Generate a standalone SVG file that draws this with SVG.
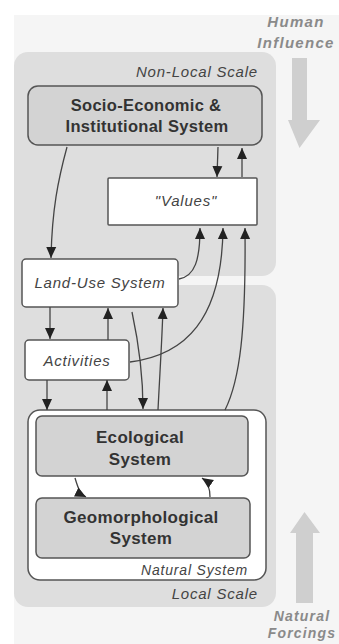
<svg xmlns="http://www.w3.org/2000/svg" width="339" height="644" viewBox="0 0 339 644">
<style>
.bg{fill:#f5f5f5}
.panel{fill:#dedede}
.sys{fill:#d3d3d3;stroke:#555;stroke-width:1.5}
.wbox{fill:#fff;stroke:#555;stroke-width:1.5}
.bold{font-family:"Liberation Sans",Arial,sans-serif;font-weight:bold;font-size:16.5px;letter-spacing:0.3px;fill:#333;text-anchor:middle}
.eco{font-size:17px}
.it{font-family:"Liberation Sans",Arial,sans-serif;font-style:italic;font-size:15px;letter-spacing:0.8px;fill:#444;text-anchor:middle}
.scale{font-family:"Liberation Sans",Arial,sans-serif;font-style:italic;font-size:15px;letter-spacing:0.8px;fill:#444;text-anchor:end}
.force{font-family:"Liberation Sans",Arial,sans-serif;font-style:italic;font-weight:bold;font-size:15px;letter-spacing:1.3px;fill:#8a8a8a;text-anchor:middle}
.nf{font-size:14px;letter-spacing:1.2px}
.big{fill:#cfcfcf}
.conn path{fill:none;stroke:#444;stroke-width:1.3;marker-end:url(#ah)}
</style>
<defs>
<marker id="ah" markerUnits="userSpaceOnUse" markerWidth="12" markerHeight="12" viewBox="0 0 12 12" refX="11" refY="6" orient="auto">
<path d="M0,1 L11,6 L0,11 Z" fill="#222"/>
</marker>
</defs>
<rect width="339" height="644" fill="#fff"/>
<rect class="bg" x="14" y="15" width="325" height="629"/>
<g id="non-local-scale">
<rect class="panel" x="14" y="52" width="262" height="224" rx="14"/>
<text class="scale" x="258" y="77">Non-Local Scale</text>
</g>
<g id="local-scale">
<rect class="panel" x="14" y="285" width="262" height="322" rx="14"/>
<rect class="panel" x="14" y="260" width="20" height="40"/>
<text class="scale" x="258" y="599">Local Scale</text>
</g>
<g id="human-influence">
<text class="force" x="296" y="27">Human</text>
<text class="force" x="296" y="48">Influence</text>
<path class="big" d="M292,58 H307 V120 H320 L299.5,148 L288,120 H292 Z"/>
</g>
<g id="natural-forcings">
<path class="big" d="M296,603 H313 V533 H320 L304.5,512 L290,533 H296 Z"/>
<text class="force nf" x="302" y="621">Natural</text>
<text class="force nf" x="302" y="638">Forcings</text>
</g>
<g id="socio-economic">
<rect class="sys" x="28" y="86" width="234" height="59" rx="10"/>
<text class="bold" x="146" y="111">Socio-Economic &amp;</text>
<text class="bold" x="147" y="132">Institutional System</text>
</g>
<g id="values">
<rect class="wbox" x="108" y="178" width="149" height="47" rx="1"/>
<text class="it" x="186" y="206">"Values"</text>
</g>
<g id="land-use">
<rect class="wbox" x="22" y="259" width="156" height="48" rx="4"/>
<text class="it" x="100" y="288">Land-Use System</text>
</g>
<g id="activities">
<rect class="wbox" x="25" y="340" width="104" height="40" rx="4"/>
<text class="it" x="77" y="366">Activities</text>
</g>
<g id="natural-system">
<rect class="wbox" x="28" y="410" width="238" height="170" rx="12"/>
<text class="scale" x="248" y="575" style="font-size:14px">Natural System</text>
</g>
<g id="ecological">
<rect class="sys" x="36" y="416" width="212" height="60" rx="6"/>
<text class="bold eco" x="140" y="443">Ecological</text>
<text class="bold eco" x="140" y="465">System</text>
</g>
<g id="geomorphological">
<rect class="sys" x="36" y="498" width="214" height="60" rx="6"/>
<text class="bold eco" x="141" y="523">Geomorphological</text>
<text class="bold eco" x="141" y="544">System</text>
</g>
<g id="connectors" class="conn">
<path d="M218,147 L217,177"/>
<path d="M242,177 L242,148"/>
<path d="M67,147 C58,180 52,210 51,258"/>
<path d="M179,279 C195,276 200,260 200,228"/>
<path d="M130,362 C185,355 222,320 223,228"/>
<path d="M225,410 C240,380 246,330 245,228"/>
<path d="M50,307 L50,339"/>
<path d="M108,340 L108,308"/>
<path d="M132,312 C138,340 143,370 143,409"/>
<path d="M158,410 C160,370 162,340 163,308"/>
<path d="M47,380 L47,410"/>
<path d="M107,410 L107,380"/>
<path d="M75,478 C78,488 80,494 86,497"/>
<path d="M210,497 C210,488 208,482 202,478"/>
</g>
</svg>
